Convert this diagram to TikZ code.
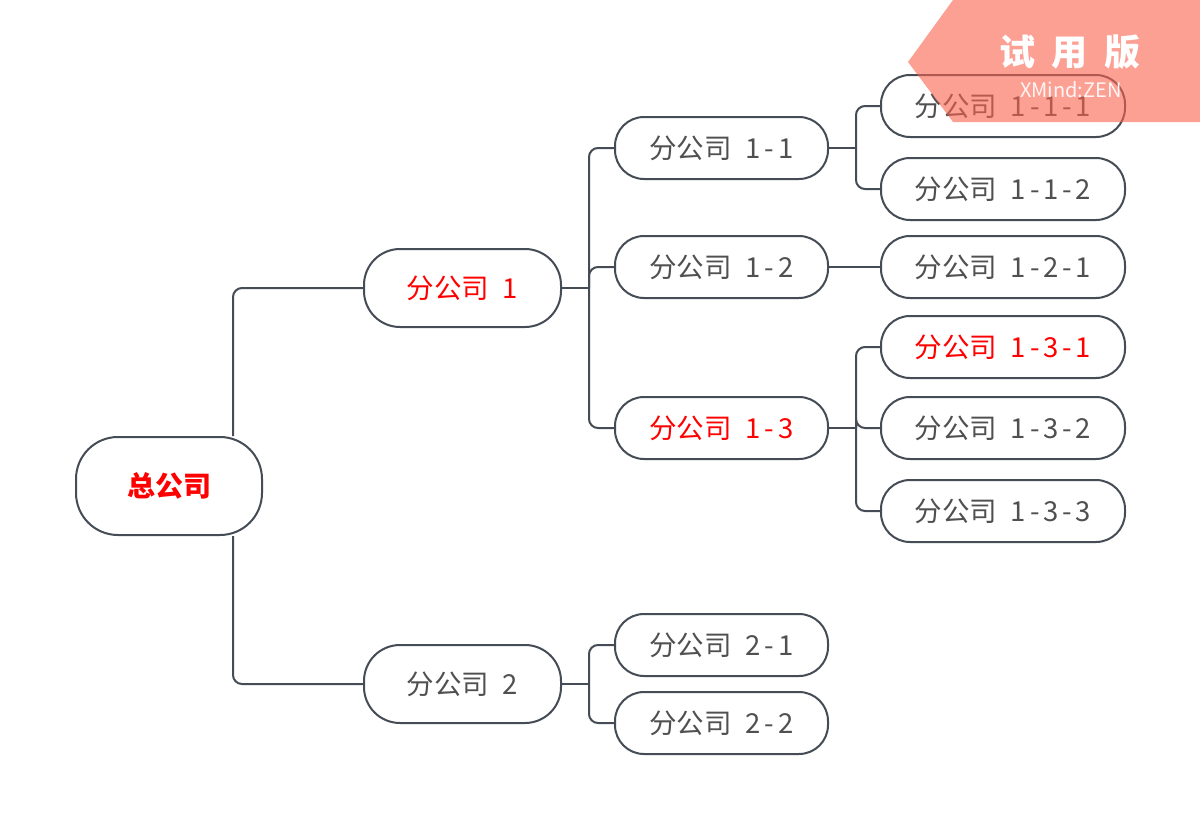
\documentclass[tikz,border=0pt]{standalone}
\usepackage{fontspec}
\setmainfont{Noto Sans CJK SC}
\usetikzlibrary{calc}
\definecolor{linec}{HTML}{454C55}
\definecolor{txtc}{HTML}{505050}
\definecolor{redc}{HTML}{FF0000}
\definecolor{wm}{RGB}{250,97,77}
\tikzset{
  box/.style={draw=linec, line width=2pt, fill=white, text=txtc, font=\fontsize{27.5}{32}\selectfont, inner sep=0pt},
  lvone/.style={box, minimum width=197pt, minimum height=78pt, rounded corners=36pt},
  lvtwo/.style={box, minimum width=213pt, minimum height=62pt, rounded corners=29pt},
  lvthree/.style={box, minimum width=244pt, minimum height=62pt, rounded corners=29pt},
  rootbox/.style={box, minimum width=186pt, minimum height=98pt, rounded corners=42pt, text=redc, font=\fontsize{28}{32}\selectfont\bfseries},
  conn/.style={draw=linec, line width=2pt, rounded corners=9pt},
  hl/.style={text=redc}
}
\newcommand{\hy}{\hspace{0.14em}-\hspace{0.14em}}
\newcommand{\lab}[2]{#1\hspace{0.5em}#2}
\begin{document}
\begin{tikzpicture}[x=1pt,y=-1pt]
\useasboundingbox (0,0) rectangle (1200,830);
\fill[white] (0,0) rectangle (1200,830);
% nodes
\node[rootbox] (root) at (169,486) {总公司};
\node[lvone,hl] (n1) at (462.5,288) {\lab{分公司}{1}};
\node[lvone] (n2) at (462.5,684) {\lab{分公司}{2}};
\node[lvtwo] (n11) at (721.5,148) {\lab{分公司}{1\hy1}};
\node[lvtwo] (n12) at (721.5,267) {\lab{分公司}{1\hy2}};
\node[lvtwo,hl] (n13) at (721.5,428) {\lab{分公司}{1\hy3}};
\node[lvtwo] (n21) at (721.5,645) {\lab{分公司}{2\hy1}};
\node[lvtwo] (n22) at (721.5,723) {\lab{分公司}{2\hy2}};
\node[lvthree] (n111) at (1003,106) {\lab{分公司}{1\hy1\hy1}};
\node[lvthree] (n112) at (1003,189) {\lab{分公司}{1\hy1\hy2}};
\node[lvthree] (n121) at (1003,267) {\lab{分公司}{1\hy2\hy1}};
\node[lvthree,hl] (n131) at (1003,347) {\lab{分公司}{1\hy3\hy1}};
\node[lvthree] (n132) at (1003,428) {\lab{分公司}{1\hy3\hy2}};
\node[lvthree] (n133) at (1003,511) {\lab{分公司}{1\hy3\hy3}};
% connectors
\coordinate (rt) at ([xshift=-30pt]root.north east);
\coordinate (rb) at ([xshift=-30pt]root.south east);
\draw[conn] (rt) |- (n1.west);
\draw[conn] (rb) |- (n2.west);
\draw[conn] (n1.east) -- ++(27,0) coordinate (j1);
\draw[conn] (j1) |- (n11.west);
\draw[conn] (j1) |- (n12.west);
\draw[conn] (j1) |- (n13.west);
\draw[conn] (n2.east) -- ++(27,0) coordinate (j2);
\draw[conn] (j2) |- (n21.west);
\draw[conn] (j2) |- (n22.west);
\draw[conn] (n11.east) -- ++(27,0) coordinate (j11);
\draw[conn] (j11) |- (n111.west);
\draw[conn] (j11) |- (n112.west);
\draw[conn] (n12.east) -- (n121.west);
\draw[conn] (n13.east) -- ++(27,0) coordinate (j13);
\draw[conn] (j13) |- (n131.west);
\draw[conn] (j13) |- (n132.west);
\draw[conn] (j13) |- (n133.west);
% watermark
\fill[wm, opacity=0.6] (908,62) -- (953,0) -- (1200,0) -- (1200,122) -- (953,122) -- cycle;
\node[text=white, font=\fontsize{36}{40}\selectfont\bfseries] (wmt) at (1070,52) {试\hspace{0.45em}用\hspace{0.45em}版};
\node[text=white, opacity=0.9, font=\fontsize{20}{24}\selectfont] (wms) at (1071,90) {XMind:ZEN};
\end{tikzpicture}
\end{document}
